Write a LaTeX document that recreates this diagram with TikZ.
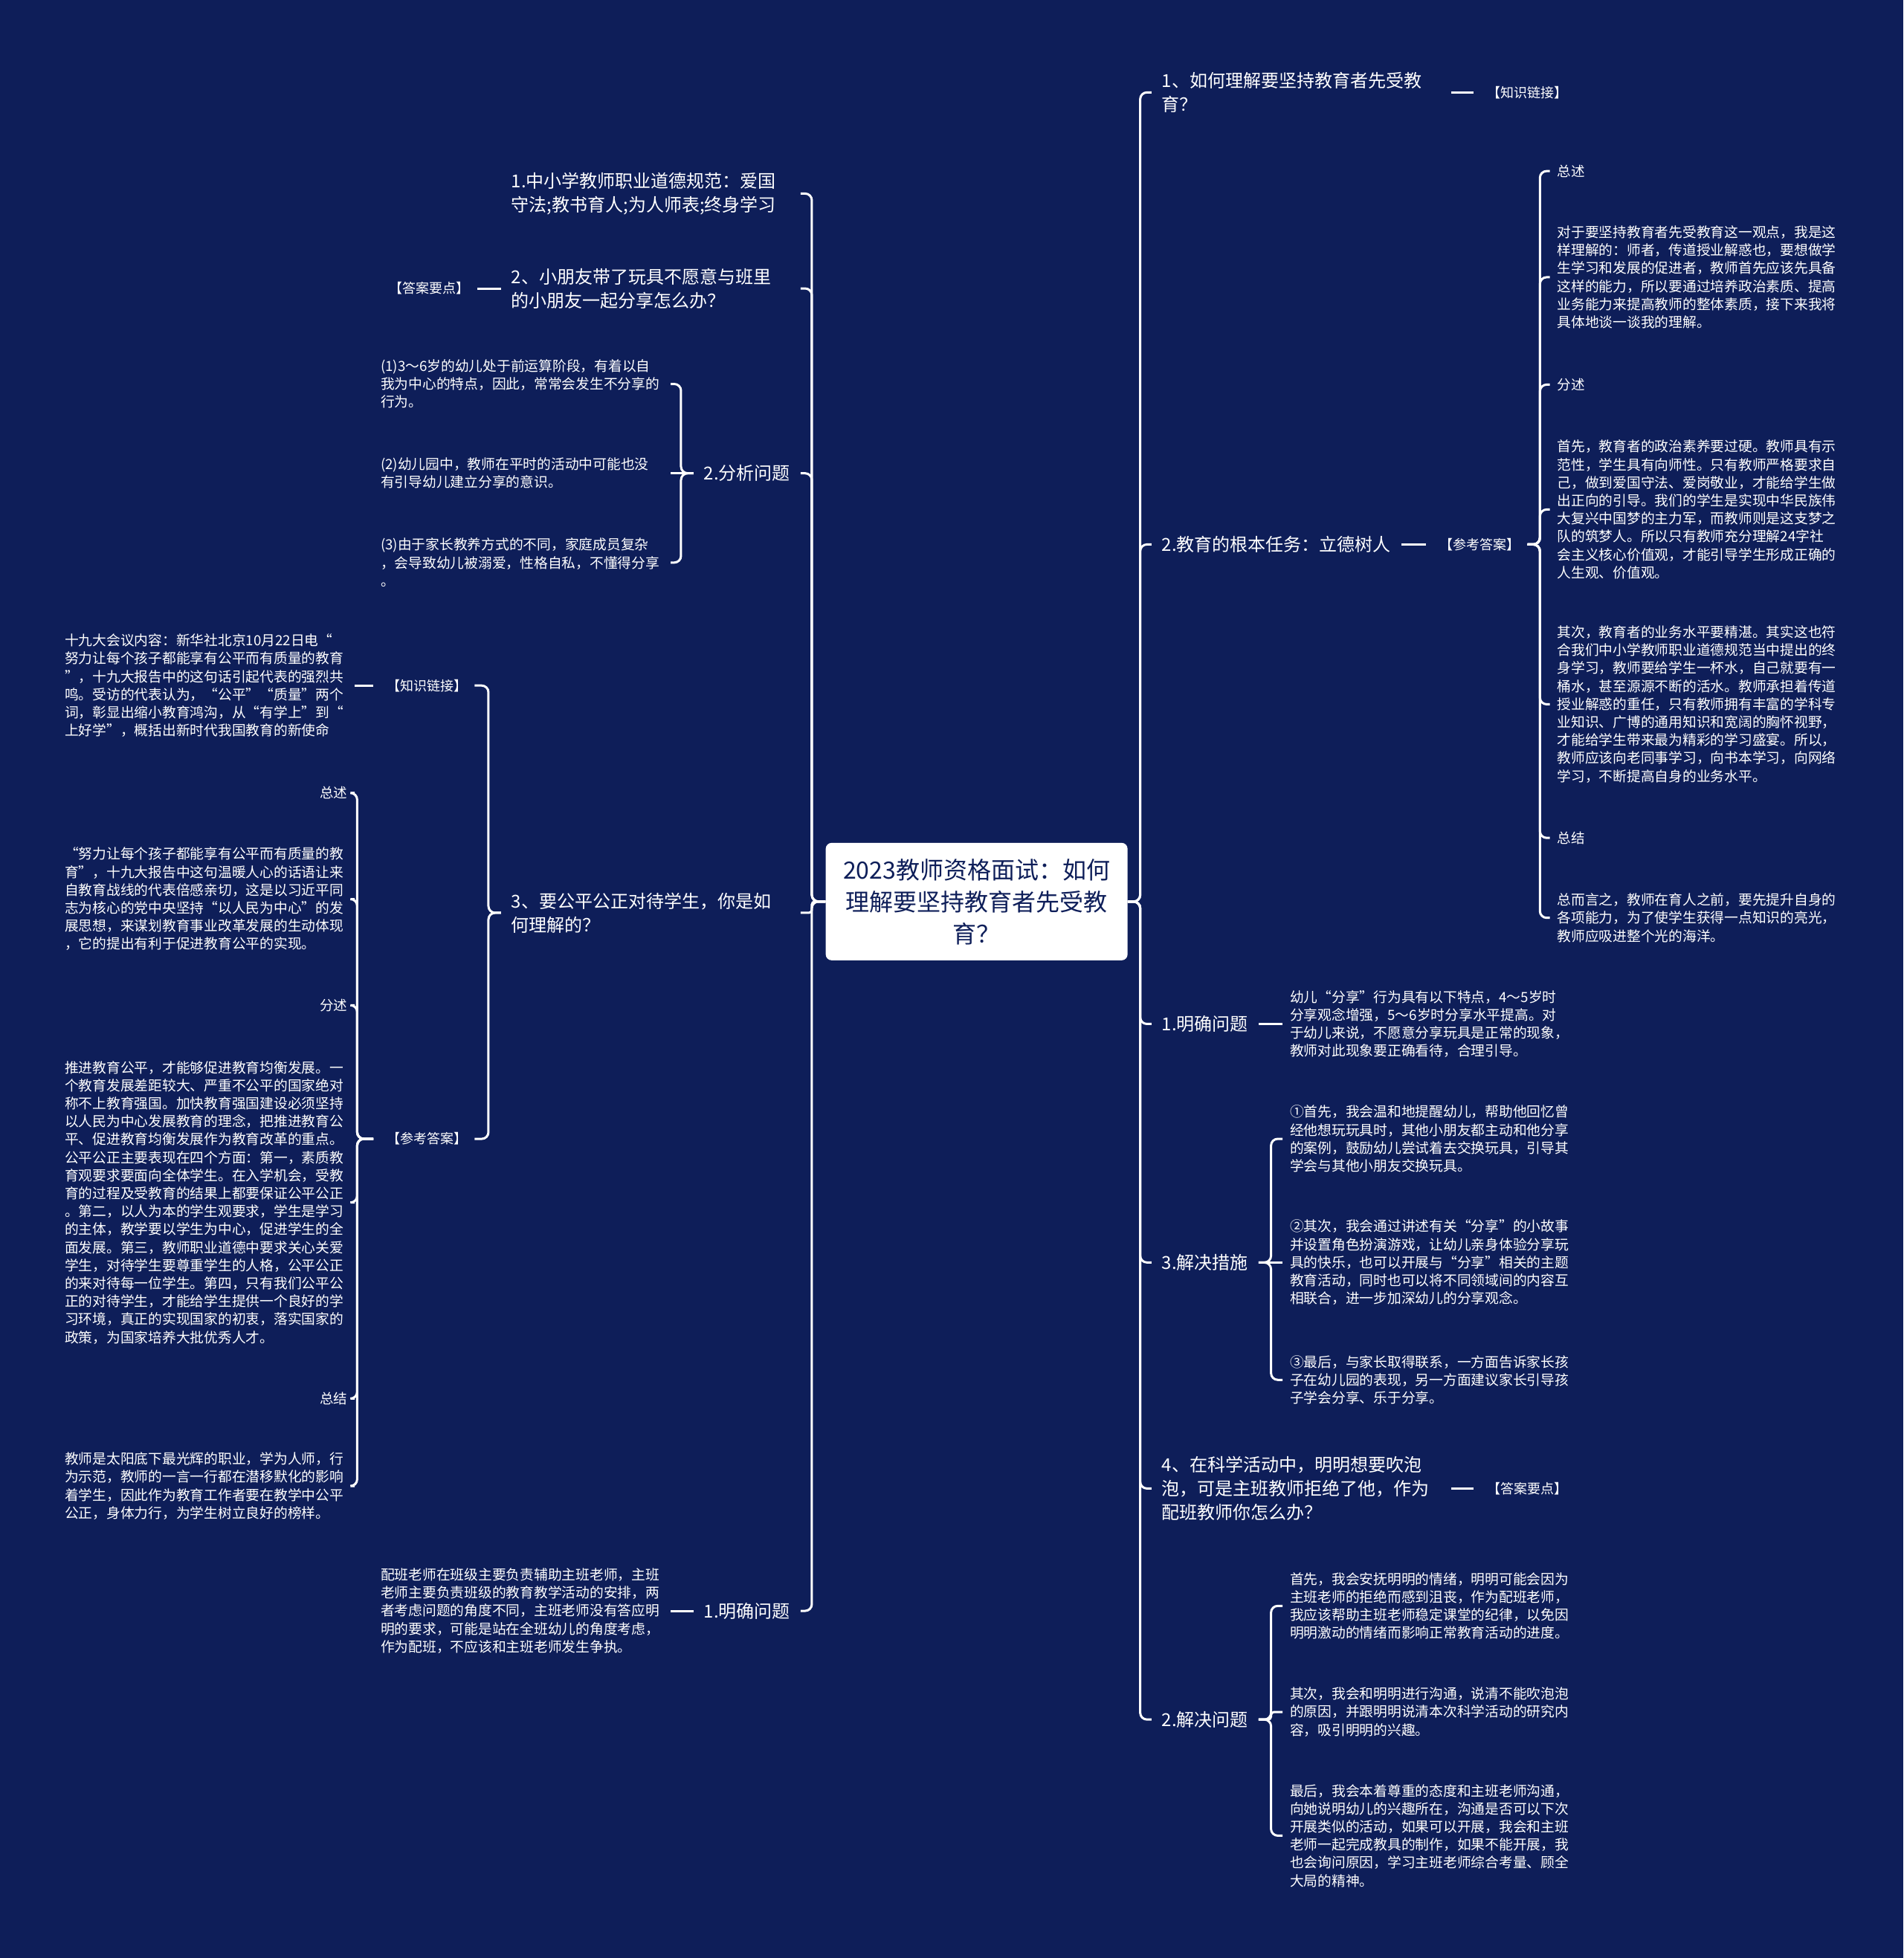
\documentclass[tikz,border=0pt]{standalone}
\usepackage{fontspec}
\setmainfont{Noto Sans CJK SC}
\definecolor{bg}{RGB}{14,30,89}
\newcommand{\kl}[1]{\hspace{0.45em}【#1】\hspace{0.45em}}
\tikzset{
 conn/.style={draw=white, line width=3pt, rounded corners=9pt},
 big/.style={text=white, inner sep=0pt, outer xsep=14pt, outer ysep=0pt, align=left, font=\fontsize{24pt}{32pt}\selectfont},
 bigw/.style={big, text width=375pt},
 para/.style={text=white, inner sep=0pt, outer xsep=10pt, outer ysep=0pt, align=left, text width=380pt, font=\fontsize{18.75pt}{24.2pt}\selectfont},
 lab/.style={text=white, inner sep=0pt, outer xsep=10pt, outer ysep=0pt, font=\fontsize{18.5pt}{24pt}\selectfont},
 klab/.style={lab, font=\fontsize{18pt}{22pt}\selectfont},
 root/.style={fill=white, rounded corners=8pt, text=bg, align=center, minimum width=406pt, minimum height=158pt, inner sep=0pt, font=\fontsize{32pt}{43pt}\selectfont}
}
\begin{document}
\begin{tikzpicture}[x=1.6798pt, y=-1.6798pt]
\fill[bg] (0,0) rectangle (1524,1568);
\useasboundingbox (0,0) rectangle (1524,1568);

% root
\node[root] (C) at (782,722) {2023教师资格面试：如何\\理解要坚持教育者先受教\\育？};

% ---------------- right side ----------------
\node[bigw, anchor=west] (R1) at (922,74) {1、如何理解要坚持教育者先受教\\育？};
\node[klab, anchor=west] (R1k) at (1180,74) {\kl{知识链接}};

\node[big, anchor=west] (R2) at (922,436) {2.教育的根本任务：立德树人};
\node[klab, anchor=west] (R2k) at (1142,436) {\kl{参考答案}};
\node[lab, anchor=west] (Ra) at (1241,137) {总述};
\node[para, anchor=west] (Rb) at (1241,222) {对于要坚持教育者先受教育这一观点，我是这\\
样理解的：师者，传道授业解惑也，要想做学\\
生学习和发展的促进者，教师首先应该先具备\\
这样的能力，所以要通过培养政治素质、提高\\
业务能力来提高教师的整体素质，接下来我将\\
具体地谈一谈我的理解。};
\node[lab, anchor=west] (Rc) at (1241,308) {分述};
\node[para, anchor=west] (Rd) at (1241,408) {首先，教育者的政治素养要过硬。教师具有示\\
范性，学生具有向师性。只有教师严格要求自\\
己，做到爱国守法、爱岗敬业，才能给学生做\\
出正向的引导。我们的学生是实现中华民族伟\\
大复兴中国梦的主力军，而教师则是这支梦之\\
队的筑梦人。所以只有教师充分理解24字社\\
会主义核心价值观，才能引导学生形成正确的\\
人生观、价值观。};
\node[para, anchor=west] (Re) at (1241,564) {其次，教育者的业务水平要精湛。其实这也符\\
合我们中小学教师职业道德规范当中提出的终\\
身学习，教师要给学生一杯水，自己就要有一\\
桶水，甚至源源不断的活水。教师承担着传道\\
授业解惑的重任，只有教师拥有丰富的学科专\\
业知识、广博的通用知识和宽阔的胸怀视野，\\
才能给学生带来最为精彩的学习盛宴。所以，\\
教师应该向老同事学习，向书本学习，向网络\\
学习，不断提高自身的业务水平。};
\node[lab, anchor=west] (Rf) at (1241,671) {总结};
\node[para, anchor=west] (Rg) at (1241,735) {总而言之，教师在育人之前，要先提升自身的\\
各项能力，为了使学生获得一点知识的亮光，\\
教师应吸进整个光的海洋。};

\node[big, anchor=west] (R3) at (922,820) {1.明确问题};
\node[para, anchor=west] (R3p) at (1027,820) {幼儿“分享”行为具有以下特点，4～5岁时\\
分享观念增强，5～6岁时分享水平提高。对\\
于幼儿来说，不愿意分享玩具是正常的现象，\\
教师对此现象要正确看待，合理引导。};

\node[big, anchor=west] (R4) at (922,1011) {3.解决措施};
\node[para, anchor=west] (R4a) at (1027,912) {①首先，我会温和地提醒幼儿，帮助他回忆曾\\
经他想玩玩具时，其他小朋友都主动和他分享\\
的案例，鼓励幼儿尝试着去交换玩具，引导其\\
学会与其他小朋友交换玩具。};
\node[para, anchor=west] (R4b) at (1027,1011) {②其次，我会通过讲述有关“分享”的小故事\\
并设置角色扮演游戏，让幼儿亲身体验分享玩\\
具的快乐，也可以开展与“分享”相关的主题\\
教育活动，同时也可以将不同领域间的内容互\\
相联合，进一步加深幼儿的分享观念。};
\node[para, anchor=west] (R4c) at (1027,1105) {③最后，与家长取得联系，一方面告诉家长孩\\
子在幼儿园的表现，另一方面建议家长引导孩\\
子学会分享、乐于分享。};

\node[bigw, anchor=west] (R5) at (922,1192) {4、在科学活动中，明明想要吹泡\\泡，可是主班教师拒绝了他，作为\\配班教师你怎么办？};
\node[klab, anchor=west] (R5k) at (1180,1192) {\kl{答案要点}};

\node[big, anchor=west] (R6) at (922,1377) {2.解决问题};
\node[para, anchor=west] (R6a) at (1027,1286) {首先，我会安抚明明的情绪，明明可能会因为\\
主班老师的拒绝而感到沮丧，作为配班老师，\\
我应该帮助主班老师稳定课堂的纪律，以免因\\
明明激动的情绪而影响正常教育活动的进度。};
\node[para, anchor=west] (R6b) at (1027,1371) {其次，我会和明明进行沟通，说清不能吹泡泡\\
的原因，并跟明明说清本次科学活动的研究内\\
容，吸引明明的兴趣。};
\node[para, anchor=west] (R6c) at (1027,1470) {最后，我会本着尊重的态度和主班老师沟通，\\
向她说明幼儿的兴趣所在，沟通是否可以下次\\
开展类似的活动，如果可以开展，我会和主班\\
老师一起完成教具的制作，如果不能开展，我\\
也会询问原因，学习主班老师综合考量、顾全\\
大局的精神。};

% ---------------- left side ----------------
\node[bigw, anchor=east] (L1) at (641,155) {1.中小学教师职业道德规范：爱国\\守法;教书育人;为人师表;终身学习};
\node[bigw, anchor=east] (L2) at (641,231) {2、小朋友带了玩具不愿意与班里\\的小朋友一起分享怎么办？};
\node[klab, anchor=east] (L2k) at (382,231) {\kl{答案要点}};

\node[big, anchor=east] (L3) at (641,379) {2.分析问题};
\node[para, anchor=east] (L3a) at (537,307.5) {(1)3～6岁的幼儿处于前运算阶段，有着以自\\
我为中心的特点，因此，常常会发生不分享的\\
行为。};
\node[para, anchor=east] (L3b) at (537,379) {(2)幼儿园中，教师在平时的活动中可能也没\\
有引导幼儿建立分享的意识。};
\node[para, anchor=east] (L3c) at (537,450.5) {(3)由于家长教养方式的不同，家庭成员复杂\\
，会导致幼儿被溺爱，性格自私，不懂得分享\\
。};

\node[bigw, anchor=east] (L4) at (641,731) {3、要公平公正对待学生，你是如\\何理解的？};
\node[klab, anchor=east] (L4a) at (380,549) {\kl{知识链接}};
\node[para, anchor=east] (L4ap) at (284,549) {十九大会议内容：新华社北京10月22日电“\\
努力让每个孩子都能享有公平而有质量的教育\\
”，十九大报告中的这句话引起代表的强烈共\\
鸣。受访的代表认为，“公平”“质量”两个\\
词，彰显出缩小教育鸿沟，从“有学上”到“\\
上好学”，概括出新时代我国教育的新使命};
\node[klab, anchor=east] (L4b) at (380,912) {\kl{参考答案}};
\node[lab, anchor=east] (La) at (284,635) {总述};
\node[para, anchor=east] (Lb) at (284,720) {“努力让每个孩子都能享有公平而有质量的教\\
育”，十九大报告中这句温暖人心的话语让来\\
自教育战线的代表倍感亲切，这是以习近平同\\
志为核心的党中央坚持“以人民为中心”的发\\
展思想，来谋划教育事业改革发展的生动体现\\
，它的提出有利于促进教育公平的实现。};
\node[lab, anchor=east] (Lc) at (284,805) {分述};
\node[para, anchor=east] (Ld) at (284,963) {推进教育公平，才能够促进教育均衡发展。一\\
个教育发展差距较大、严重不公平的国家绝对\\
称不上教育强国。加快教育强国建设必须坚持\\
以人民为中心发展教育的理念，把推进教育公\\
平、促进教育均衡发展作为教育改革的重点。\\
公平公正主要表现在四个方面：第一，素质教\\
育观要求要面向全体学生。在入学机会，受教\\
育的过程及受教育的结果上都要保证公平公正\\
。第二，以人为本的学生观要求，学生是学习\\
的主体，教学要以学生为中心，促进学生的全\\
面发展。第三，教师职业道德中要求关心关爱\\
学生，对待学生要尊重学生的人格，公平公正\\
的来对待每一位学生。第四，只有我们公平公\\
正的对待学生，才能给学生提供一个良好的学\\
习环境，真正的实现国家的初衷，落实国家的\\
政策，为国家培养大批优秀人才。};
\node[lab, anchor=east] (Le) at (284,1120) {总结};
\node[para, anchor=east] (Lf) at (284,1190) {教师是太阳底下最光辉的职业，学为人师，行\\
为示范，教师的一言一行都在潜移默化的影响\\
着学生，因此作为教育工作者要在教学中公平\\
公正，身体力行，为学生树立良好的榜样。};

\node[big, anchor=east] (L5) at (641,1290) {1.明确问题};
\node[para, anchor=east] (L5p) at (537,1290) {配班老师在班级主要负责辅助主班老师，主班\\
老师主要负责班级的教育教学活动的安排，两\\
者考虑问题的角度不同，主班老师没有答应明\\
明的要求，可能是站在全班幼儿的角度考虑，\\
作为配班，不应该和主班老师发生争执。};

% ---------------- connectors ----------------
\foreach \n in {R1,R2,R3,R4,R5,R6}
  \draw[conn] (C.east) -- ++(10,0) |- (\n.west);
\foreach \n in {L1,L2,L3,L5}
  \draw[conn] (C.west) -- ++(-11,0) |- (\n.east);
\draw[conn, rounded corners=4pt] (C.west) -- ++(-11,0) |- (L4.east);

\draw[conn] (R1.east) -- (R1k.west);
\draw[conn] (R5.east) -- (R5k.west);
\draw[conn] (R2.east) -- (R2k.west);
\foreach \n in {Ra,Rb,Rc,Rd,Re,Rf,Rg}
  \draw[conn] (R2k.east) -- ++(10,0) |- (\n.west);
\draw[conn] (R3.east) -- (R3p.west);
\foreach \n in {R4a,R4c}
  \draw[conn] (R4.east) -- ++(10,0) |- (\n.west);
\draw[conn] (R4.east) -- (R4b.west);
\foreach \n in {R6a,R6c}
  \draw[conn] (R6.east) -- ++(10,0) |- (\n.west);
\draw[conn, rounded corners=4pt] (R6.east) -- ++(10,0) |- (R6b.west);

\draw[conn] (L2.west) -- (L2k.east);
\foreach \n in {L3a,L3c}
  \draw[conn] (L3.west) -- ++(-10,0) |- (\n.east);
\draw[conn] (L3.west) -- (L3b.east);
\foreach \n in {L4a,L4b}
  \draw[conn] (L4.west) -- ++(-10,0) |- (\n.east);
\draw[conn] (L4a.west) -- (L4ap.east);
\foreach \n in {La,Lb,Lc,Ld,Le,Lf}
  \draw[conn] (L4b.west) -- ++(-13,0) |- (\n.east);
\draw[conn] (L5.west) -- (L5p.east);
\end{tikzpicture}
\end{document}
